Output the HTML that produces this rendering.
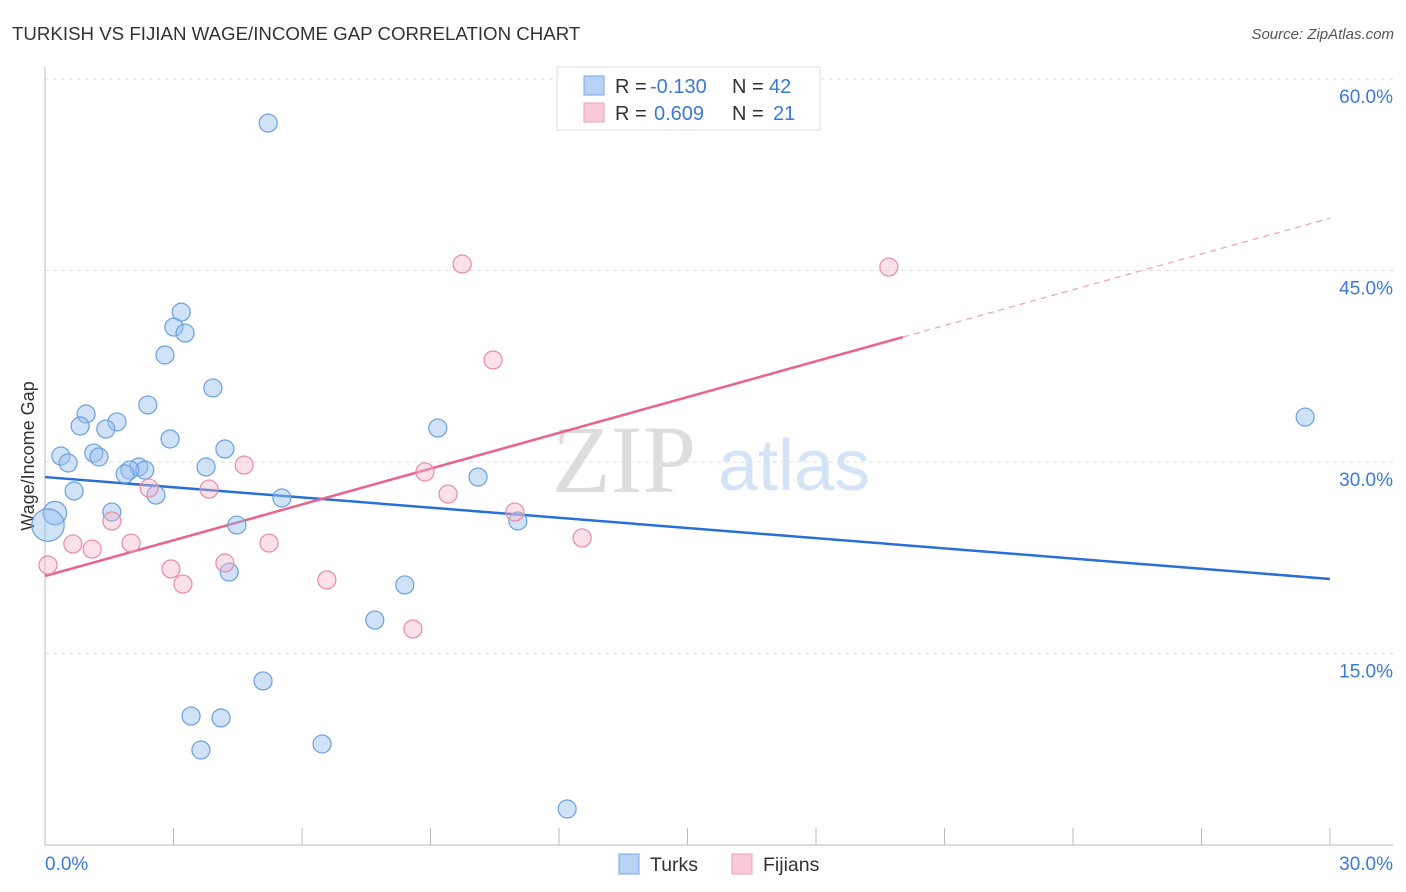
<!DOCTYPE html>
<html><head><meta charset="utf-8"><style>
body{margin:0;background:#fff;font-family:"Liberation Sans",sans-serif;}
svg{display:block}
</style></head><body>
<svg id="chart" width="1406" height="892" xmlns="http://www.w3.org/2000/svg">
<text x="12" y="40" font-size="18.7" fill="#333">TURKISH VS FIJIAN WAGE/INCOME GAP CORRELATION CHART</text>
<text x="1394" y="39" font-size="15" fill="#555" font-style="italic" text-anchor="end">Source: ZipAtlas.com</text>
<g id="grid"></g>
<g>
<text x="552" y="492" font-size="96" font-family="Liberation Serif,serif" fill="#ddd">ZIP</text>
<text x="718" y="490" font-size="72" fill="#d4e3f6">atlas</text>
</g>
<line x1="45" y1="67" x2="45" y2="845" stroke="#bbb"/>
<line x1="45" y1="845" x2="1393" y2="845" stroke="#bbb"/>
<text x="0" y="0" transform="translate(34,456) rotate(-90)" font-size="18" fill="#333" text-anchor="middle">Wage/Income Gap</text>
<text x="45" y="870" font-size="19" fill="#3b78d8">0.0%</text>
<text x="1393" y="870" font-size="19" fill="#3b78d8" text-anchor="end">30.0%</text>
<g id="lines"></g>
<g id="pts"></g>
<g>
<rect x="557" y="67" width="263" height="63" fill="#fff" stroke="#ddd"/>
<rect x="584" y="76" width="20" height="19" fill="#b8d2f4" stroke="#7aa6e4"/>
<rect x="584" y="103" width="20" height="19" fill="#fbcad8" stroke="#eba0b8"/>
<text x="615" y="93" font-size="20" fill="#333">R = <tspan x="650" fill="#3b78d8">-0.130</tspan><tspan x="732">N = </tspan><tspan x="769" fill="#3b78d8">42</tspan></text>
<text x="615" y="120" font-size="20" fill="#333">R = <tspan x="654" fill="#3b78d8">0.609</tspan><tspan x="732">N = </tspan><tspan x="773" fill="#3b78d8">21</tspan></text>
</g>
<g>
<rect x="619" y="854" width="20" height="20" fill="#b8d2f4" stroke="#7aa6e4"/>
<text x="650" y="871" font-size="19.5" fill="#333">Turks</text>
<rect x="732" y="854" width="20" height="20" fill="#fbcad8" stroke="#eba0b8"/>
<text x="763" y="871" font-size="19.5" fill="#333">Fijians</text>
</g>
</svg>
<script>
const yTicks=[15,30,45,60];
const yTickLabels=["15.0%","30.0%","45.0%","60.0%"];
const xTicks=[0,3,6,9,12,15,18,21,24,27,30];
const turksX=[5.21,3.18,3.01,3.27,2.80,3.92,2.40,0.96,1.68,0.82,1.42,9.17,2.92,4.20,0.37,1.14,1.26,0.54,3.76,2.19,2.33,1.98,1.87,10.11,0.68,2.59,5.53,0.23,1.56,11.04,4.48,0.07,4.30,8.40,7.70,5.09,3.41,4.11,3.64,6.47,12.19,29.42];
const turksY=[56.55,41.74,40.57,40.10,38.38,35.80,34.47,33.76,33.14,32.82,32.58,32.66,31.80,31.02,30.47,30.70,30.39,29.92,29.61,29.61,29.37,29.37,29.06,28.82,27.73,27.41,27.18,26.00,26.08,25.38,25.06,25.06,21.38,20.37,17.62,12.85,10.10,9.95,7.44,7.91,2.82,33.52];
const turksSize=[1,1,1,1,1,1,1,1,1,1,1,1,1,1,1,1,1,1,1,1,1,1,1,1,1,1,1,1.3,1,1,1,1.8,1,1,1,1,1,1,1,1,1,1];
const fijiX=[9.74,19.70,10.46,4.65,8.87,2.43,3.83,9.41,10.97,1.56,12.54,0.65,2.01,5.23,1.10,2.94,4.20,0.07,3.22,6.58,8.59];
const fijiY=[45.51,45.27,37.99,29.76,29.22,27.96,27.88,27.49,26.08,25.38,24.05,23.58,23.65,23.65,23.18,21.62,22.09,21.93,20.44,20.76,16.92];
const turksLine=[28.82,20.84];
const fijiLine=[21.07,49.1];
const fijiSolidEnd=20.03;
const X=v=>45+v/30*1285, Y=v=>845-v/60*766;
const NS="http://www.w3.org/2000/svg";
function mk(t,a,p){const e=document.createElementNS(NS,t);for(const k in a)e.setAttribute(k,a[k]);p.appendChild(e);return e;}
const g=document.getElementById('grid');
yTicks.forEach((t,i)=>{
 const l=mk('line',{x1:45,x2:1393,y1:Y(t),y2:Y(t),stroke:'#ddd','stroke-dasharray':'4,4'},g);
 
 
 const tx=mk('text',{x:1393,y:Y(t)+24,'font-size':19,fill:'#3b78d8','text-anchor':'end'},g);
 tx.textContent=yTickLabels[i];
 
 
});
xTicks.forEach(t=>{
 const l=mk('line',{x1:X(t),x2:X(t),y1:828,y2:845,stroke:'#bbb'},g);
 
 
});
const P=document.getElementById('pts');
turksX.forEach((x,i)=>{
 const c=mk('circle',{cx:X(x),cy:Y(turksY[i]),r:9*turksSize[i],fill:'rgba(150,190,240,0.45)',stroke:'#6a9fe0','stroke-width':1.2},P);
 
 
});
fijiX.forEach((x,i)=>{
 const c=mk('circle',{cx:X(x),cy:Y(fijiY[i]),r:9,fill:'rgba(248,180,200,0.4)',stroke:'#e88aa8','stroke-width':1.2},P);
 
 
});
const L=document.getElementById('lines');
const b=mk('line',{x1:X(0),y1:Y(turksLine[0]),x2:X(30),y2:Y(turksLine[1]),stroke:'#2a6fd6','stroke-width':2.5},L);


const fy=x=>fijiLine[0]+(fijiLine[1]-fijiLine[0])*x/30;
const p1=mk('line',{x1:X(0),y1:Y(fy(0)),x2:X(fijiSolidEnd),y2:Y(fy(fijiSolidEnd)),stroke:'#e8648c','stroke-width':2.5},L);


const p2=mk('line',{x1:X(fijiSolidEnd),y1:Y(fy(fijiSolidEnd)),x2:X(30),y2:Y(fy(30)),stroke:'#e8a0b8','stroke-width':1.2,'stroke-dasharray':'6,5'},L);


</script>
</body></html>
